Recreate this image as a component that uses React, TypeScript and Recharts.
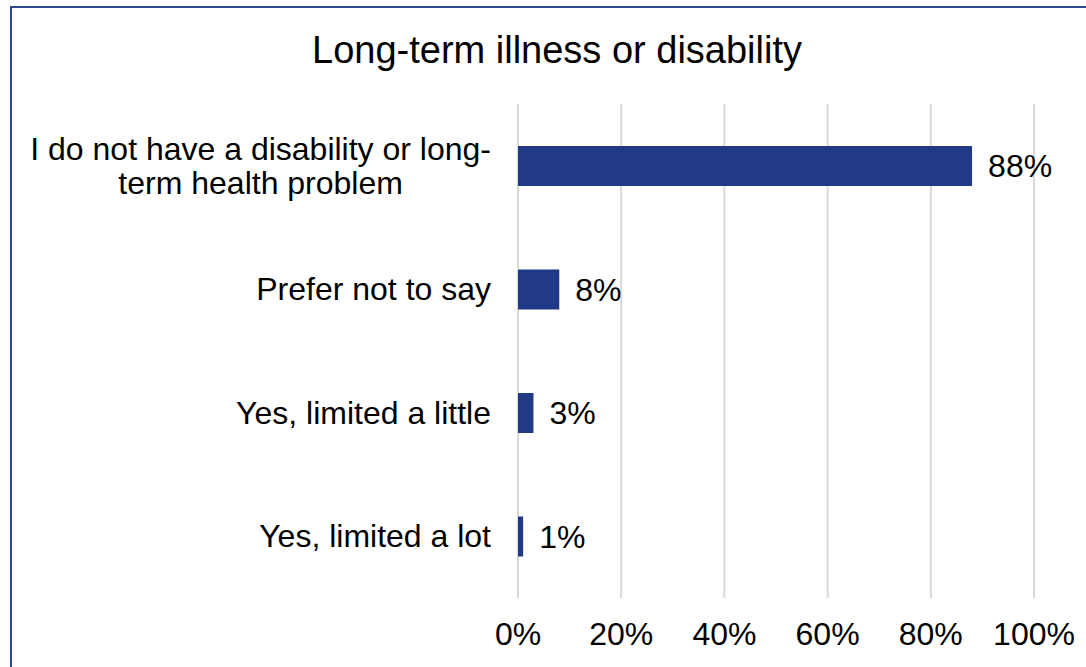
import React from 'react';
import { BarChart, Bar, XAxis, YAxis, CartesianGrid, LabelList } from 'recharts';

const categories = [
  'I do not have a disability or long-|term health problem',
  'Prefer not to say',
  'Yes, limited a little',
  'Yes, limited a lot',
];
const values = [88, 8, 3, 1];
const xTicks = [0, 20, 40, 60, 80, 100];
const title = 'Long-term illness or disability';

const data = categories.map((c, i) => ({ name: c, value: values[i] }));

const FONT = "'Liberation Sans', Arial, sans-serif";
const TICK_SIZE = 32;

function measure(text: string, size: number): number {
  const canvas = document.createElement('canvas');
  const ctx = canvas.getContext('2d');
  if (!ctx) return text.length * size * 0.5;
  ctx.font = `${size}px ${FONT}`;
  return ctx.measureText(text).width;
}

const YTick = (props: any) => {
  const { x, y, payload } = props;
  const lines: string[] = String(payload.value).split('|');
  const lh = 34;
  const x0 = x - 19;
  if (lines.length === 1) {
    return (
      <text x={x0} y={y} textAnchor="end" dominantBaseline="central" fontFamily={FONT} fontSize={TICK_SIZE} fill="#000">
        {lines[0]}
      </text>
    );
  }
  const w0 = measure(lines[0], TICK_SIZE);
  const cx = x0 - w0 / 2;
  const start = y - ((lines.length - 1) * lh) / 2;
  return (
    <g>
      {lines.map((l, i) => (
        <text key={i} x={cx} y={start + i * lh} textAnchor="middle" dominantBaseline="central" fontFamily={FONT} fontSize={TICK_SIZE} fill="#000">
          {l}
        </text>
      ))}
    </g>
  );
};

export default function App() {
  return (
    <div style={{ position: 'absolute', left: 0, top: 0, width: 1086, height: 667, overflow: 'hidden', background: '#fff' }}>
      <div style={{ position: 'absolute', left: 10, top: 6, width: 1200, height: 800, border: '2px solid #2E4A8E', boxSizing: 'border-box' }} />
      <BarChart
        width={1086}
        height={667}
        data={data}
        layout="vertical"
        margin={{ top: 104, right: 52, bottom: 29, left: 18 }}
        barCategoryGap="34%"
        style={{ position: 'absolute', left: 0, top: 0 }}
      >
        <text x={557} y={63} textAnchor="middle" fontFamily={FONT} fontSize={38} fill="#000">
          {title}
        </text>
        <CartesianGrid horizontal={false} vertical={true} stroke="#D9D9D9" strokeWidth={2} />
        <XAxis
          type="number"
          domain={[0, 100]}
          ticks={xTicks}
          tickFormatter={(v: number) => `${v}%`}
          axisLine={false}
          tickLine={false}
          height={40}
          tick={{ fontFamily: FONT, fontSize: TICK_SIZE, fill: '#000', dy: 16 }}
        />
        <YAxis
          type="category"
          dataKey="name"
          width={500}
          axisLine={false}
          tickLine={false}
          tick={<YTick />}
          interval={0}
        />
        <Bar dataKey="value" fill="#213A85" isAnimationActive={false}>
          <LabelList
            dataKey="value"
            position="right"
            offset={16}
            formatter={(v: any) => `${v}%`}
            style={{ fontFamily: FONT, fontSize: TICK_SIZE, fill: '#000' }}
          />
        </Bar>
      </BarChart>
    </div>
  );
}
